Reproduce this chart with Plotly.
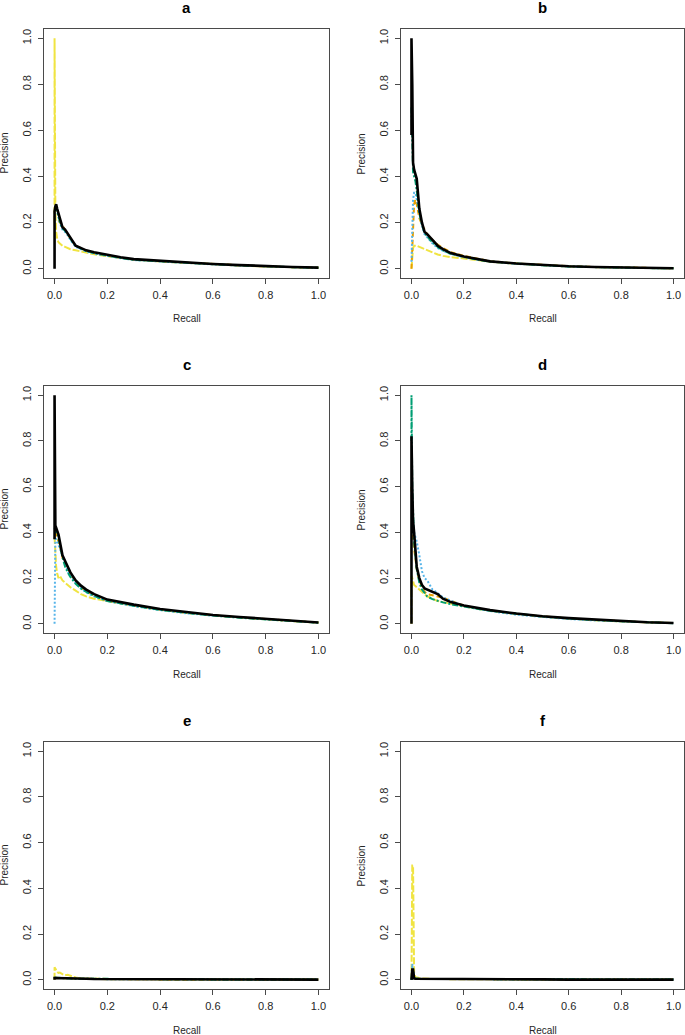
import plotly.graph_objects as go

# ---------------- data ----------------
recall = [0, 0, 0.003, 0.006, 0.01, 0.015, 0.02, 0.03, 0.04, 0.05, 0.06, 0.08, 0.1,
          0.12, 0.15, 0.2, 0.25, 0.3, 0.4, 0.5, 0.6, 0.7, 0.8, 0.9, 1.0]

panel_labels = ["a", "b", "c", "d", "e", "f"]
tick_vals = [0, 0.2, 0.4, 0.6, 0.8, 1.0]
tick_text = ["0.0", "0.2", "0.4", "0.6", "0.8", "1.0"]

# panel a
a_yellow = [0.2, 1.0, 0.25, 0.16, 0.13, 0.115, 0.11, 0.10, 0.095, 0.09, 0.085, 0.08, 0.075, 0.07, 0.063, 0.055, 0.048, 0.04, 0.032, 0.025, 0.019, 0.014, 0.01, 0.007, 0.004]
a_orange = [None, None, None, None, None, 0.21, 0.2, 0.19, 0.165, 0.15, 0.13, 0.10, 0.088, 0.078, 0.068, 0.056, 0.048, 0.04, 0.032, 0.026, 0.02, 0.015, 0.01, 0.007, 0.004]
a_blue = [None, 0.27, 0.27, 0.27, 0.25, 0.22, 0.2, 0.17, 0.16, 0.145, 0.125, 0.095, 0.085, 0.075, 0.066, 0.055, 0.046, 0.038, 0.031, 0.025, 0.019, 0.014, 0.01, 0.007, 0.004]
a_green = [None, 0.26, 0.26, 0.265, 0.245, 0.225, 0.205, 0.175, 0.165, 0.15, 0.13, 0.098, 0.087, 0.077, 0.068, 0.057, 0.047, 0.039, 0.032, 0.025, 0.02, 0.015, 0.01, 0.007, 0.004]
a_black = [0, 0.25, 0.27, 0.28, 0.26, 0.24, 0.21, 0.18, 0.17, 0.155, 0.135, 0.10, 0.09, 0.08, 0.072, 0.06, 0.05, 0.042, 0.034, 0.027, 0.021, 0.016, 0.011, 0.008, 0.005]

# panel b
b_yellow = [0.0, 0.0, 0.06, 0.09, 0.1, 0.1, 0.1, 0.095, 0.09, 0.085, 0.08, 0.07, 0.062, 0.056, 0.05, 0.045, 0.038, 0.03, 0.022, 0.015, 0.01, 0.007, 0.004, 0.003, 0.002]
b_orange = [0.0, 0.0, 0.1, 0.2, 0.28, 0.3, 0.28, 0.22, 0.19, 0.17, 0.15, 0.125, 0.105, 0.09, 0.072, 0.056, 0.043, 0.033, 0.023, 0.016, 0.011, 0.008, 0.005, 0.003, 0.002]
b_blue = [0.03, 0.03, 0.2, 0.3, 0.33, 0.33, 0.3, 0.24, 0.19, 0.15, 0.135, 0.11, 0.09, 0.078, 0.064, 0.05, 0.04, 0.031, 0.021, 0.014, 0.01, 0.007, 0.004, 0.003, 0.002]
b_green = [0.7, 0.7, 0.6, 0.42, 0.4, 0.38, 0.34, 0.24, 0.19, 0.155, 0.14, 0.115, 0.095, 0.08, 0.065, 0.051, 0.04, 0.031, 0.022, 0.015, 0.01, 0.007, 0.005, 0.003, 0.002]
b_black = [0.58, 1.0, 0.8, 0.46, 0.43, 0.41, 0.39, 0.26, 0.2, 0.16, 0.15, 0.125, 0.1, 0.085, 0.068, 0.053, 0.042, 0.032, 0.023, 0.016, 0.011, 0.008, 0.005, 0.003, 0.002]

# panel c
c_yellow = [0.38, 0.38, 0.28, 0.25, 0.22, 0.2, 0.21, 0.19, 0.18, 0.17, 0.16, 0.145, 0.13, 0.12, 0.11, 0.1, 0.09, 0.08, 0.062, 0.048, 0.037, 0.028, 0.02, 0.013, 0.005]
c_orange = [None, 0.4, 0.4, 0.39, 0.38, 0.36, 0.34, 0.29, 0.26, 0.24, 0.215, 0.18, 0.16, 0.142, 0.124, 0.1, 0.09, 0.08, 0.062, 0.048, 0.037, 0.028, 0.021, 0.014, 0.006]
c_blue = [0.0, 0.0, 0.37, 0.37, 0.36, 0.35, 0.33, 0.3, 0.27, 0.23, 0.21, 0.18, 0.155, 0.138, 0.12, 0.1, 0.088, 0.078, 0.06, 0.046, 0.036, 0.027, 0.02, 0.013, 0.005]
c_green = [None, 0.42, 0.41, 0.4, 0.4, 0.38, 0.35, 0.29, 0.25, 0.225, 0.205, 0.175, 0.155, 0.14, 0.122, 0.1, 0.089, 0.079, 0.061, 0.047, 0.036, 0.027, 0.02, 0.013, 0.005]
c_black = [0.37, 1.0, 0.43, 0.42, 0.41, 0.39, 0.36, 0.3, 0.275, 0.25, 0.225, 0.19, 0.167, 0.15, 0.13, 0.106, 0.094, 0.084, 0.065, 0.051, 0.039, 0.03, 0.022, 0.015, 0.006]

# panel d
d_yellow = [0.0, 0.21, 0.2, 0.19, 0.17, 0.165, 0.16, 0.15, 0.14, 0.13, 0.12, 0.11, 0.1, 0.095, 0.088, 0.075, 0.066, 0.058, 0.043, 0.032, 0.023, 0.016, 0.011, 0.007, 0.003]
d_orange = [None, 0.6, 0.45, 0.38, 0.33, 0.28, 0.24, 0.19, 0.16, 0.14, 0.13, 0.125, 0.12, 0.115, 0.1, 0.08, 0.068, 0.058, 0.043, 0.032, 0.023, 0.017, 0.011, 0.007, 0.003]
d_blue = [None, 0.45, 0.45, 0.44, 0.4, 0.38, 0.36, 0.3, 0.23, 0.2, 0.19, 0.15, 0.135, 0.115, 0.1, 0.078, 0.066, 0.056, 0.04, 0.029, 0.021, 0.015, 0.01, 0.006, 0.003]
d_green = [0.8, 1.0, 0.6, 0.45, 0.36, 0.3, 0.24, 0.18, 0.15, 0.135, 0.12, 0.108, 0.1, 0.094, 0.086, 0.075, 0.066, 0.057, 0.043, 0.032, 0.023, 0.016, 0.011, 0.007, 0.003]
d_black = [0.0, 0.82, 0.6, 0.45, 0.4, 0.3, 0.25, 0.2, 0.17, 0.155, 0.15, 0.142, 0.13, 0.11, 0.095, 0.08, 0.07, 0.06, 0.045, 0.033, 0.025, 0.018, 0.012, 0.007, 0.004]

# panel e
e_yellow = [0.0, 0.055, 0.05, 0.04, 0.035, 0.03, 0.032, 0.025, 0.02, 0.022, 0.018, 0.01, 0.006, 0.005, 0.004, 0.003, 0.003, 0.002, 0.002, 0.002, 0.001, 0.001, 0.001, 0.001, 0.001]
e_orange = [None, 0.01, 0.01, 0.01, 0.009, 0.008, 0.008, 0.007, 0.007, 0.006, 0.006, 0.005, 0.005, 0.004, 0.004, 0.003, 0.003, 0.003, 0.002, 0.002, 0.002, 0.001, 0.001, 0.001, 0.001]
e_blue = [None, 0.01, 0.01, 0.01, 0.01, 0.01, 0.009, 0.008, 0.008, 0.007, 0.006, 0.005, 0.005, 0.004, 0.004, 0.003, 0.003, 0.003, 0.002, 0.002, 0.002, 0.001, 0.001, 0.001, 0.001]
e_green = [None, 0.009, 0.009, 0.009, 0.009, 0.008, 0.008, 0.007, 0.007, 0.006, 0.006, 0.005, 0.005, 0.004, 0.004, 0.003, 0.003, 0.003, 0.002, 0.002, 0.002, 0.001, 0.001, 0.001, 0.001]
e_black = [0.0, 0.008, 0.008, 0.008, 0.007, 0.007, 0.007, 0.006, 0.006, 0.006, 0.006, 0.005, 0.005, 0.005, 0.004, 0.004, 0.004, 0.003, 0.003, 0.003, 0.002, 0.002, 0.002, 0.001, 0.001]

# panel f
f_yellow = [0.0, 0.0, 0.5, 0.5, 0.03, 0.012, 0.01, 0.008, 0.006, 0.005, 0.005, 0.004, 0.004, 0.003, 0.003, 0.003, 0.002, 0.002, 0.002, 0.002, 0.001, 0.001, 0.001, 0.001, 0.001]
f_orange = [None, 0.0, 0.02, 0.02, 0.008, 0.006, 0.005, 0.005, 0.004, 0.004, 0.004, 0.003, 0.003, 0.003, 0.003, 0.002, 0.002, 0.002, 0.002, 0.001, 0.001, 0.001, 0.001, 0.001, 0.001]
f_blue = [None, 0.0, 0.07, 0.05, 0.01, 0.006, 0.005, 0.005, 0.004, 0.004, 0.004, 0.003, 0.003, 0.003, 0.003, 0.002, 0.002, 0.002, 0.002, 0.001, 0.001, 0.001, 0.001, 0.001, 0.001]
f_green = [None, 0.0, 0.03, 0.03, 0.008, 0.006, 0.005, 0.005, 0.004, 0.004, 0.004, 0.003, 0.003, 0.003, 0.003, 0.002, 0.002, 0.002, 0.002, 0.001, 0.001, 0.001, 0.001, 0.001, 0.001]
f_black = [0.0, 0.0, 0.045, 0.045, 0.006, 0.005, 0.005, 0.004, 0.004, 0.004, 0.004, 0.003, 0.003, 0.003, 0.003, 0.003, 0.002, 0.002, 0.002, 0.002, 0.001, 0.001, 0.001, 0.001, 0.001]

series_names = ["Method 1", "Method 2", "Method 3", "Method 4", "Method 5"]
panel_series = {
    "a": [a_yellow, a_orange, a_blue, a_green, a_black],
    "b": [b_yellow, b_orange, b_blue, b_green, b_black],
    "c": [c_yellow, c_orange, c_blue, c_green, c_black],
    "d": [d_yellow, d_orange, d_blue, d_green, d_black],
    "e": [e_yellow, e_orange, e_blue, e_green, e_black],
    "f": [f_yellow, f_orange, f_blue, f_green, f_black],
}

# ---------------- styles ----------------
colors = ["#F0E442", "#E69F00", "#56B4E9", "#009E73", "#000000"]
dashes = ["7px,2px", "5px,3px", "2px,2px", "6px,2px,2px,2px", "solid"]
widths = [2.0, 2.0, 2.0, 2.0, 2.6]

W, H = 685, 1035
col_px = [(44, 329), (401, 684)]
row_px = [(29, 278), (386, 633), (742, 989)]

FONT = "Liberation Sans, Arial, Helvetica, sans-serif"
AX_COLOR = "#4a4a4a"
TXT_COLOR = "#262626"

fig = go.Figure()
annotations = []
layout_axes = {}

for i, p in enumerate(panel_labels):
    r, c = divmod(i, 2)
    x0, x1 = col_px[c]
    yt, yb = row_px[r]
    xd = [x0 / W, x1 / W]
    yd = [1 - yb / H, 1 - yt / H]
    n = i + 1
    xa = "x" if n == 1 else f"x{n}"
    ya = "y" if n == 1 else f"y{n}"
    for s in range(5):
        fig.add_trace(go.Scatter(
            x=recall, y=panel_series[p][s], mode="lines",
            name=series_names[s], showlegend=False, connectgaps=False,
            line=dict(color=colors[s], dash=dashes[s], width=widths[s]),
            xaxis=xa, yaxis=ya,
        ))
    common = dict(range=[-0.04, 1.04], showgrid=False, zeroline=False,
                  showline=True, mirror=True, linecolor=AX_COLOR, linewidth=1.4,
                  ticks="outside", ticklen=5, tickwidth=1, tickcolor=AX_COLOR,
                  tickvals=tick_vals, ticktext=tick_text,
                  tickfont=dict(family=FONT, size=11, color=TXT_COLOR))
    layout_axes["xaxis" if n == 1 else f"xaxis{n}"] = dict(
        common, domain=xd, anchor=ya, ticklabelstandoff=2)
    layout_axes["yaxis" if n == 1 else f"yaxis{n}"] = dict(
        common, domain=yd, anchor=xa, tickangle=-90, ticklabelstandoff=2)

    cx = (x0 + x1) / 2 / W
    # panel title
    annotations.append(dict(text=f"<b>{p}</b>", x=cx, y=1 - (yt - 21.5) / H,
                            xref="paper", yref="paper", showarrow=False,
                            xanchor="center", yanchor="middle",
                            font=dict(family=FONT, size=15, color="#000")))
    # x axis title
    annotations.append(dict(text="Recall", x=cx, y=1 - (yb + 41) / H,
                            xref="paper", yref="paper", showarrow=False,
                            xanchor="center", yanchor="middle",
                            font=dict(family=FONT, size=10, color=TXT_COLOR)))
    # y axis title
    annotations.append(dict(text="Precision", x=(x0 - 40) / W, y=1 - (yt + yb) / 2 / H,
                            xref="paper", yref="paper", showarrow=False, textangle=-90,
                            xanchor="center", yanchor="middle",
                            font=dict(family=FONT, size=10, color=TXT_COLOR)))

fig.update_layout(width=W, height=H, autosize=False,
                  margin=dict(l=0, r=0, t=0, b=0),
                  paper_bgcolor="white", plot_bgcolor="white",
                  annotations=annotations, **layout_axes)

fig.write_html("out.html", config={"displayModeBar": False},
               post_script="document.body.style.margin='0';document.body.style.overflow='hidden';")
